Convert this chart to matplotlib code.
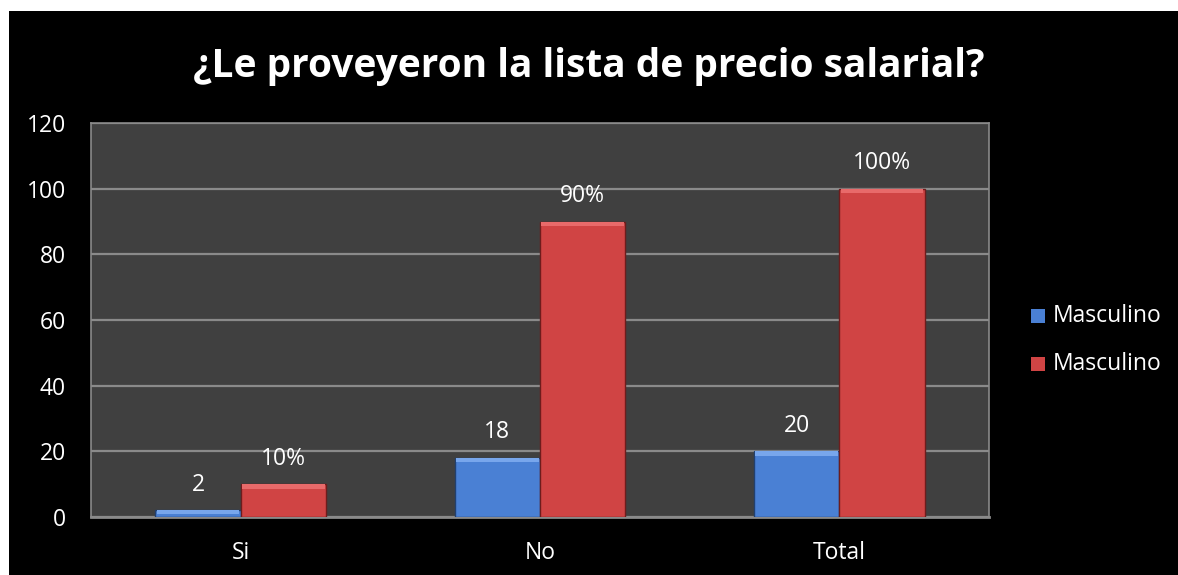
import matplotlib
matplotlib.use("Agg")
import matplotlib.pyplot as plt
from matplotlib.patches import Rectangle
import numpy as np

categories = ["Si", "No", "Total"]
blue_values = [2, 18, 20]
red_values = [10, 90, 100]
blue_labels = ["2", "18", "20"]
red_labels = ["10%", "90%", "100%"]
series_names = ["Masculino", "Masculino"]
yticks = [0, 20, 40, 60, 80, 100, 120]

W, H = 1178, 575
fig = plt.figure(figsize=(W / 100, H / 100), dpi=100, facecolor="white")
fig.patches.append(Rectangle((9 / W, 0), 1 - 9 / W, 1 - 11 / H, transform=fig.transFigure,
                             facecolor="black", edgecolor="none", zorder=-10))

font = "Open Sans"
fs = 16.5
ax = fig.add_axes([91 / W, 1 - 517 / H, (989 - 91) / W, (517 - 123) / H])
ax.set_facecolor("#404040")
x = np.arange(len(categories))
bw = 0.285
blue_c = "#4a80d4"
red_c = "#d04444"
b1 = ax.bar(x - bw / 2, blue_values, bw, color=blue_c, edgecolor="#22406e", linewidth=1.0, zorder=3)
b2 = ax.bar(x + bw / 2, red_values, bw, color=red_c, edgecolor="#6e1c1c", linewidth=1.0, zorder=3)
# bevel highlight on top
for bars, hc in ((b1, "#78a6ec"), (b2, "#e86a6a")):
    for r in bars:
        h = min(1.4, r.get_height() * 0.5)
        ax.add_patch(Rectangle((r.get_x() + 0.004, r.get_height() - h), r.get_width() - 0.008, h,
                               facecolor=hc, edgecolor="none", zorder=4))

for xi, v, lab in zip(x - bw / 2, blue_values, blue_labels):
    ax.annotate(lab, (xi, v), xytext=(0, 14), textcoords="offset points", ha="center", va="baseline",
                color="white", fontsize=fs, family=font)
for xi, v, lab in zip(x + bw / 2, red_values, red_labels):
    ax.annotate(lab, (xi, v), xytext=(0, 14), textcoords="offset points", ha="center", va="baseline",
                color="white", fontsize=fs, family=font)

ax.set_xlim(-0.5, len(categories) - 0.5)
ax.set_ylim(0, 120)
ax.set_yticks(yticks)
ax.set_yticklabels([str(t) for t in yticks], color="white", fontsize=fs, family=font)
ax.set_xticks(x)
ax.set_xticklabels(categories, color="white", fontsize=fs, family=font)
ax.tick_params(axis="y", length=0, pad=18)
ax.tick_params(axis="x", length=0, pad=17)
ax.grid(axis="y", color="#8a8a8a", linewidth=1.6, zorder=1)
for s in ax.spines.values():
    s.set_color("#8a8a8a")
    s.set_linewidth(1.2)
ax.spines["bottom"].set_linewidth(2)

fig.text(589 / W, 1 - 77 / H, "¿Le proveyeron la lista de precio salarial?", ha="center", va="baseline",
         color="white", fontsize=28, fontweight="bold", family=font)

# legend
for i, (name, c) in enumerate(zip(series_names, (blue_c, red_c))):
    base = 322 + i * 48
    fig.patches.append(Rectangle((1031 / W, 1 - (base + 1) / H), 14 / W, 14 / H,
                                 transform=fig.transFigure, facecolor=c, edgecolor="none"))
    fig.text(1053 / W, 1 - base / H, name, ha="left", va="baseline", color="white",
             fontsize=fs, family=font)

fig.savefig("out.png", dpi=100, facecolor="white")
